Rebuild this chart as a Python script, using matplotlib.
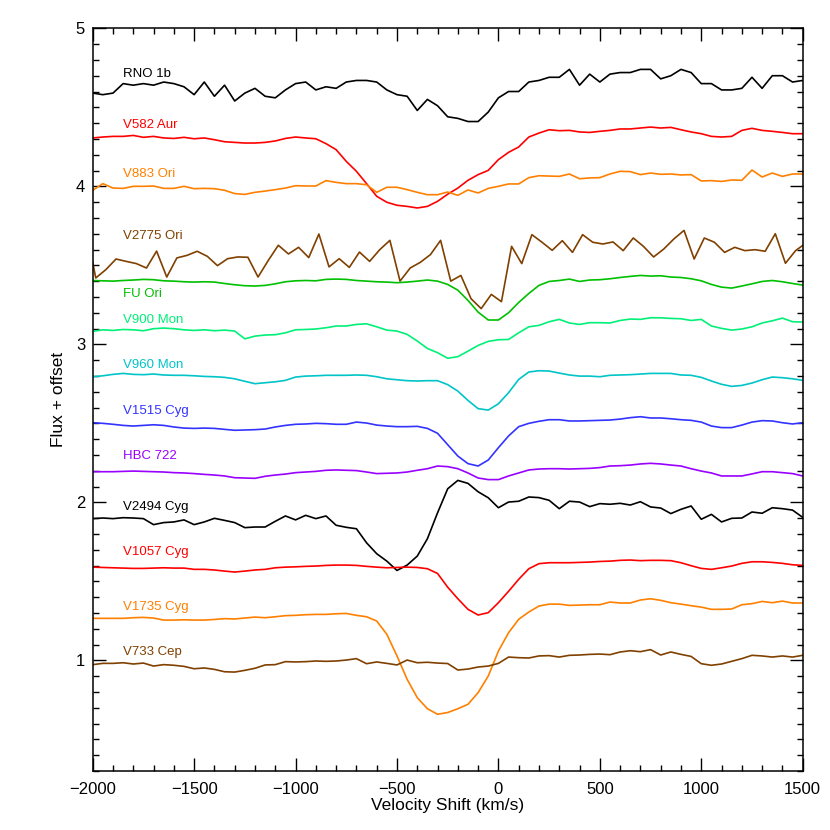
import numpy as np
import matplotlib
matplotlib.use("Agg")
import matplotlib.pyplot as plt
from matplotlib.ticker import MultipleLocator

plt.rcParams['font.family'] = ['Liberation Sans', 'DejaVu Sans']

# velocity grid (km/s); V2775 Ori sampled on a slightly shifted grid
velocity = np.arange(-2000, 1501, 50)
velocity_v2775 = np.arange(-2035, 1516, 50)

# flux + offset, top to bottom
rno_1b = [4.59, 4.58, 4.59, 4.65, 4.64, 4.65, 4.64, 4.66, 4.65, 4.63, 4.58, 4.66, 4.57, 4.64, 4.54, 4.59,
          4.62, 4.57, 4.56, 4.61, 4.65, 4.66, 4.61, 4.63, 4.62, 4.66, 4.67, 4.67, 4.66, 4.61, 4.58, 4.57,
          4.48, 4.55, 4.51, 4.44, 4.43, 4.41, 4.41, 4.47, 4.56, 4.60, 4.60, 4.66, 4.67, 4.69, 4.69, 4.74,
          4.64, 4.71, 4.66, 4.71, 4.72, 4.72, 4.74, 4.74, 4.68, 4.70, 4.74, 4.72, 4.65, 4.65, 4.61, 4.61,
          4.62, 4.69, 4.62, 4.70, 4.70, 4.66, 4.67]
v582_aur = [4.306, 4.312, 4.316, 4.316, 4.322, 4.310, 4.316, 4.306, 4.303, 4.310, 4.301, 4.306, 4.295,
            4.282, 4.278, 4.274, 4.274, 4.278, 4.287, 4.303, 4.312, 4.306, 4.301, 4.270, 4.232, 4.158,
            4.095, 4.017, 3.937, 3.899, 3.880, 3.873, 3.863, 3.873, 3.905, 3.950, 3.989, 4.038, 4.074,
            4.101, 4.169, 4.215, 4.249, 4.312, 4.337, 4.358, 4.352, 4.354, 4.344, 4.341, 4.348, 4.354,
            4.363, 4.363, 4.369, 4.375, 4.369, 4.373, 4.358, 4.344, 4.333, 4.316, 4.312, 4.316, 4.354,
            4.367, 4.354, 4.348, 4.341, 4.333, 4.333]
v883_ori = [3.975, 4.017, 3.989, 3.987, 4.000, 4.000, 4.002, 3.987, 3.987, 4.000, 3.985, 3.987, 3.985,
            3.975, 3.954, 3.949, 3.962, 3.970, 3.979, 3.989, 4.004, 4.002, 4.002, 4.036, 4.025, 4.017,
            4.017, 4.010, 3.962, 3.994, 3.994, 3.979, 3.962, 3.947, 3.947, 3.964, 3.943, 3.977, 3.958,
            3.987, 4.000, 4.015, 4.015, 4.055, 4.067, 4.065, 4.063, 4.078, 4.048, 4.053, 4.055, 4.078,
            4.095, 4.093, 4.074, 4.084, 4.076, 4.078, 4.072, 4.074, 4.034, 4.036, 4.031, 4.040, 4.038,
            4.103, 4.059, 4.084, 4.063, 4.078, 4.078]
v2775_ori = [3.75, 3.420, 3.473, 3.540, 3.525, 3.511, 3.483, 3.590, 3.426, 3.547, 3.563, 3.589, 3.557,
             3.498, 3.542, 3.553, 3.551, 3.426, 3.530, 3.627, 3.572, 3.614, 3.549, 3.698, 3.490, 3.542,
             3.487, 3.584, 3.525, 3.599, 3.658, 3.400, 3.483, 3.519, 3.568, 3.658, 3.400, 3.436, 3.289,
             3.226, 3.316, 3.270, 3.620, 3.511, 3.694, 3.646, 3.595, 3.656, 3.582, 3.694, 3.646, 3.635,
             3.648, 3.593, 3.673, 3.620, 3.553, 3.603, 3.667, 3.721, 3.540, 3.673, 3.646, 3.582, 3.614,
             3.593, 3.599, 3.589, 3.700, 3.513, 3.593, 3.640]
fu_ori = [3.404, 3.402, 3.400, 3.404, 3.407, 3.411, 3.409, 3.402, 3.400, 3.396, 3.394, 3.396, 3.394,
          3.385, 3.377, 3.371, 3.369, 3.373, 3.383, 3.396, 3.402, 3.404, 3.402, 3.411, 3.413, 3.411,
          3.404, 3.400, 3.396, 3.394, 3.390, 3.394, 3.400, 3.407, 3.400, 3.379, 3.343, 3.278, 3.204,
          3.154, 3.154, 3.200, 3.265, 3.322, 3.373, 3.398, 3.404, 3.413, 3.398, 3.407, 3.409, 3.415,
          3.423, 3.430, 3.436, 3.432, 3.434, 3.426, 3.423, 3.415, 3.402, 3.379, 3.362, 3.356, 3.369,
          3.383, 3.398, 3.404, 3.396, 3.385, 3.375]
v900_mon = [3.082, 3.092, 3.088, 3.094, 3.092, 3.086, 3.099, 3.103, 3.099, 3.092, 3.088, 3.092, 3.086,
            3.090, 3.084, 3.035, 3.052, 3.059, 3.061, 3.073, 3.092, 3.094, 3.097, 3.105, 3.116, 3.116,
            3.126, 3.130, 3.111, 3.090, 3.084, 3.063, 3.021, 2.974, 2.947, 2.912, 2.922, 2.957, 2.993,
            3.019, 3.029, 3.031, 3.073, 3.111, 3.120, 3.143, 3.158, 3.135, 3.126, 3.137, 3.137, 3.135,
            3.151, 3.160, 3.158, 3.168, 3.168, 3.164, 3.162, 3.151, 3.158, 3.116, 3.101, 3.090, 3.097,
            3.111, 3.135, 3.149, 3.166, 3.143, 3.141]
v960_mon = [2.795, 2.801, 2.810, 2.816, 2.810, 2.808, 2.812, 2.806, 2.804, 2.804, 2.801, 2.797, 2.795,
            2.791, 2.782, 2.766, 2.751, 2.757, 2.763, 2.772, 2.793, 2.799, 2.801, 2.804, 2.804, 2.804,
            2.806, 2.804, 2.795, 2.782, 2.776, 2.770, 2.768, 2.770, 2.770, 2.745, 2.704, 2.645, 2.593,
            2.584, 2.624, 2.694, 2.778, 2.825, 2.833, 2.831, 2.818, 2.806, 2.799, 2.799, 2.795, 2.804,
            2.806, 2.808, 2.812, 2.816, 2.816, 2.816, 2.806, 2.804, 2.791, 2.768, 2.747, 2.734, 2.740,
            2.755, 2.776, 2.793, 2.789, 2.782, 2.772]
v1515_cyg = [2.504, 2.500, 2.494, 2.487, 2.483, 2.487, 2.491, 2.487, 2.477, 2.470, 2.468, 2.470, 2.468,
             2.462, 2.456, 2.458, 2.460, 2.464, 2.477, 2.487, 2.494, 2.496, 2.500, 2.498, 2.494, 2.494,
             2.508, 2.502, 2.489, 2.483, 2.479, 2.479, 2.481, 2.468, 2.437, 2.365, 2.293, 2.245, 2.230,
             2.268, 2.346, 2.420, 2.479, 2.500, 2.513, 2.523, 2.523, 2.515, 2.515, 2.517, 2.519, 2.521,
             2.527, 2.536, 2.542, 2.534, 2.534, 2.529, 2.523, 2.519, 2.508, 2.483, 2.473, 2.473, 2.489,
             2.508, 2.517, 2.515, 2.504, 2.496, 2.504]
hbc_722 = [2.194, 2.194, 2.194, 2.196, 2.198, 2.196, 2.194, 2.192, 2.188, 2.186, 2.182, 2.177, 2.173,
           2.167, 2.156, 2.154, 2.152, 2.165, 2.173, 2.179, 2.188, 2.192, 2.196, 2.203, 2.205, 2.203,
           2.201, 2.192, 2.182, 2.184, 2.186, 2.192, 2.203, 2.213, 2.230, 2.226, 2.213, 2.186, 2.154,
           2.144, 2.144, 2.167, 2.186, 2.205, 2.211, 2.213, 2.213, 2.211, 2.213, 2.215, 2.220, 2.230,
           2.232, 2.236, 2.243, 2.247, 2.243, 2.236, 2.230, 2.213, 2.198, 2.186, 2.167, 2.167, 2.167,
           2.180, 2.194, 2.194, 2.188, 2.182, 2.167]
v2494_cyg = [1.897, 1.901, 1.897, 1.903, 1.901, 1.897, 1.859, 1.872, 1.876, 1.889, 1.859, 1.876, 1.899,
             1.886, 1.872, 1.840, 1.844, 1.844, 1.880, 1.914, 1.889, 1.918, 1.897, 1.914, 1.855, 1.842,
             1.833, 1.744, 1.675, 1.628, 1.569, 1.603, 1.660, 1.770, 1.934, 2.086, 2.139, 2.120, 2.067,
             2.029, 1.966, 2.002, 2.007, 2.034, 2.030, 2.013, 1.960, 2.007, 2.002, 1.973, 1.992, 1.988,
             1.994, 1.983, 2.004, 1.971, 1.964, 1.929, 1.956, 1.977, 1.893, 1.924, 1.876, 1.899, 1.901,
             1.939, 1.931, 1.966, 1.960, 1.951, 1.905]
v1057_cyg = [1.590, 1.588, 1.586, 1.584, 1.582, 1.582, 1.584, 1.586, 1.584, 1.584, 1.576, 1.576, 1.572,
             1.565, 1.559, 1.565, 1.572, 1.576, 1.586, 1.590, 1.592, 1.595, 1.597, 1.601, 1.603, 1.603,
             1.601, 1.595, 1.590, 1.586, 1.588, 1.590, 1.588, 1.580, 1.550, 1.463, 1.390, 1.323, 1.287,
             1.302, 1.365, 1.437, 1.513, 1.580, 1.612, 1.618, 1.618, 1.618, 1.620, 1.622, 1.626, 1.628,
             1.633, 1.635, 1.631, 1.633, 1.633, 1.631, 1.618, 1.599, 1.582, 1.576, 1.586, 1.597, 1.614,
             1.624, 1.624, 1.620, 1.614, 1.605, 1.601]
v1735_cyg = [1.266, 1.266, 1.266, 1.266, 1.270, 1.272, 1.268, 1.255, 1.255, 1.257, 1.255, 1.255, 1.259,
             1.264, 1.262, 1.268, 1.274, 1.270, 1.276, 1.283, 1.285, 1.289, 1.291, 1.291, 1.295, 1.297,
             1.285, 1.276, 1.249, 1.165, 1.028, 0.880, 0.764, 0.694, 0.659, 0.670, 0.694, 0.722, 0.796,
             0.901, 1.059, 1.175, 1.260, 1.306, 1.344, 1.356, 1.356, 1.348, 1.350, 1.352, 1.352, 1.369,
             1.363, 1.363, 1.382, 1.390, 1.380, 1.365, 1.356, 1.346, 1.337, 1.323, 1.323, 1.325, 1.352,
             1.359, 1.373, 1.365, 1.375, 1.363, 1.363]
v733_cep = [0.973, 0.981, 0.981, 0.985, 0.977, 0.983, 0.964, 0.973, 0.969, 0.962, 0.947, 0.952, 0.943,
            0.928, 0.926, 0.937, 0.950, 0.971, 0.973, 0.992, 0.990, 0.992, 0.996, 0.994, 0.996, 1.002,
            1.011, 0.979, 0.990, 0.981, 0.971, 1.002, 0.985, 0.988, 0.983, 0.980, 0.939, 0.945, 0.958,
            0.964, 0.981, 1.021, 1.017, 1.015, 1.028, 1.030, 1.021, 1.032, 1.034, 1.038, 1.040, 1.036,
            1.053, 1.061, 1.055, 1.068, 1.034, 1.053, 1.038, 1.025, 0.979, 0.969, 0.977, 0.994, 1.011,
            1.032, 1.028, 1.021, 1.028, 1.021, 1.032]

names = ["RNO 1b", "V582 Aur", "V883 Ori", "V2775 Ori", "FU Ori", "V900 Mon", "V960 Mon",
         "V1515 Cyg", "HBC 722", "V2494 Cyg", "V1057 Cyg", "V1735 Cyg", "V733 Cep"]
spectra = [rno_1b, v582_aur, v883_ori, v2775_ori, fu_ori, v900_mon, v960_mon,
           v1515_cyg, hbc_722, v2494_cyg, v1057_cyg, v1735_cyg, v733_cep]
label_y = [4.71, 4.39, 4.08, 3.685, 3.32, 3.157, 2.868, 2.577, 2.292, 1.97, 1.685, 1.34, 1.055]
colors = ['black', '#ff0000', '#ff8000', '#804000', '#00c000', '#00f078', '#00c4c8',
          '#3333ff', '#9900ff', 'black', '#ff0000', '#ff8000', '#804000']

fig = plt.figure(figsize=(8.3, 8.3), dpi=100)
ax = fig.add_axes([0.1117, 0.0711, 0.8554, 0.8948])

for name, flux, ly, c in zip(names, spectra, label_y, colors):
    vel = velocity_v2775 if name == "V2775 Ori" else velocity
    ax.plot(vel, flux, color=c, lw=1.2)
    ax.text(-1850, ly, name, color=c, fontsize=9.5, ha='left', va='center')

ax.set_xlim(-2000, 1500)
ax.set_ylim(0.3, 5)
ax.xaxis.set_major_locator(MultipleLocator(500))
ax.xaxis.set_minor_locator(MultipleLocator(100))
ax.yaxis.set_major_locator(MultipleLocator(1))
ax.yaxis.set_minor_locator(MultipleLocator(0.1))
ax.tick_params(which='both', direction='in', top=True, right=True, width=1.0, labelsize=12)
ax.tick_params(which='major', length=9.6)
ax.tick_params(which='minor', length=4.6)
ax.tick_params(axis='x', pad=8)
ax.tick_params(axis='y', pad=5.5)
for sp in ax.spines.values():
    sp.set_linewidth(1.1)

ax.set_xlabel("Velocity Shift (km/s)", fontsize=12.5, labelpad=1)
ax.set_ylabel("Flux + offset", fontsize=12.5, labelpad=7)

fig.savefig("out.png", dpi=100)
